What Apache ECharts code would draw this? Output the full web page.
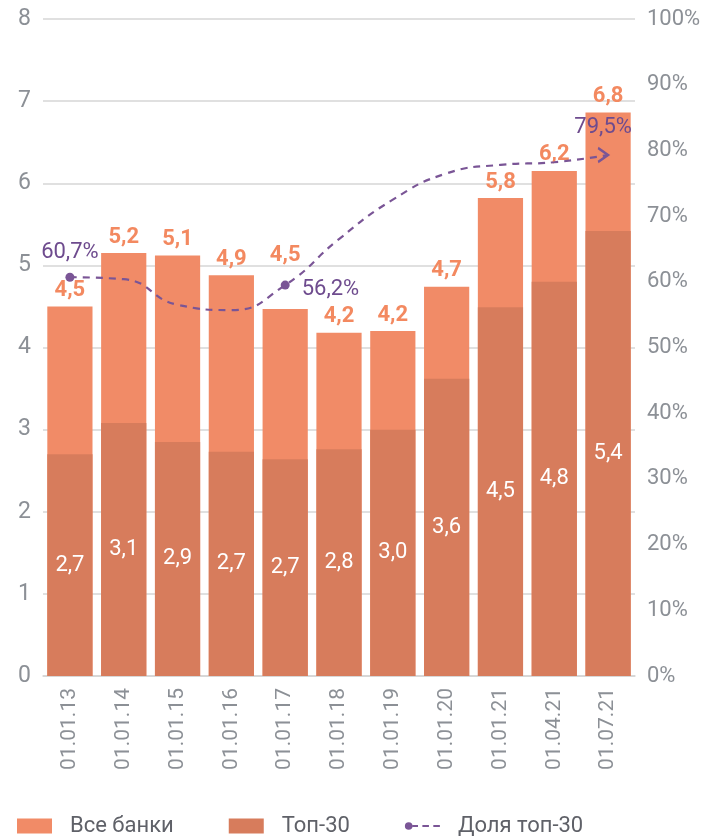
<!DOCTYPE html>
<html>
<head>
<meta charset="utf-8">
<script src="https://cdn.jsdelivr.net/npm/echarts@6/dist/echarts.min.js"></script>
<style>
html,body{margin:0;padding:0;background:#fff;}
#chart{width:708px;height:839px;}
</style>
</head>
<body>
<div id="chart"></div>
<script>
const categories = ['01.01.13','01.01.14','01.01.15','01.01.16','01.01.17','01.01.18','01.01.19','01.01.20','01.01.21','01.04.21','01.07.21'];
const allBanks = [4.5, 5.15, 5.12, 4.88, 4.47, 4.18, 4.2, 4.74, 5.82, 6.15, 6.86];
const allBanksLabels = ['4,5', '5,2', '5,1', '4,9', '4,5', '4,2', '4,2', '4,7', '5,8', '6,2', '6,8'];
const top30 = [2.7, 3.08, 2.85, 2.73, 2.64, 2.76, 3.0, 3.62, 4.49, 4.8, 5.42];
const top30Labels = ['2,7', '3,1', '2,9', '2,7', '2,7', '2,8', '3,0', '3,6', '4,5', '4,8', '5,4'];
const shareTop30 = [60.7, 60.4, 56.5, 55.7, 59.5, 66.5, 72.5, 76.5, 77.8, 78.2, 79.3];
const shareLabels = ['60,7%', '', '', '', '56,2%', '', '', '', '', '', '79,5%'];
const leftTicks = [0, 8, 1];
const rightTicks = [0, 100, 10];

const FONT = 'Roboto';
const purple = '#7a5596';

const markStyle = {
  0: {symbol: 'circle', label: {position: 'top', distance: 9}},
  4: {symbol: 'circle', label: {position: 'right', distance: 12, offset: [0, 4]}},
  10: {symbol: 'path://M0,0L9,7L0,14', symbolSize: [10, 14], symbolOffset: [-5, 0],
       itemStyle: {color: 'transparent', borderColor: purple, borderWidth: 2.2},
       label: {position: 'top', distance: 8}}
};

const shareData = shareTop30.map((v, i) => {
  const m = markStyle[i];
  if (!m) return {value: v, symbol: 'none', label: {show: false}};
  return Object.assign({value: v}, m, {label: Object.assign({show: true}, m.label)});
});

// label of 01.01.17 total is lifted above the share marker, as in the reference
const allData = allBanks.map((v, i) => i === 4 ? {value: v, label: {distance: 42}} : {value: v});

const chart = echarts.init(document.getElementById('chart'), null, {renderer: 'canvas'});
chart.setOption({
  animation: false,
  textStyle: {fontFamily: FONT},
  grid: {left: 43, right: 73, top: 19, bottom: 163, containLabel: false},
  legend: {
    left: 12, top: 810, padding: 5,
    itemWidth: 35, itemHeight: 15, itemGap: 55,
    textStyle: {fontFamily: FONT, fontSize: 22, color: '#5f6168', padding: [0, 0, 0, 13]},
    data: [
      {name: 'Все банки', icon: 'rect'},
      {name: 'Топ-30', icon: 'rect'},
      {name: 'Доля топ-30', icon: 'path://M0,4a3.5,3.5 0 1,0 7,0a3.5,3.5 0 1,0 -7,0zM7,3h5v2h-5zM16,3h6v2h-6zM26,3h6v2h-6z'}
    ]
  },
  xAxis: {
    type: 'category',
    data: categories,
    axisLine: {show: true, lineStyle: {color: '#d4d4d4', width: 1.5}},
    axisTick: {show: false},
    axisLabel: {rotate: 90, margin: 12, fontFamily: FONT, fontSize: 21, color: '#8c9096'}
  },
  yAxis: [
    {
      type: 'value', min: leftTicks[0], max: leftTicks[1], interval: leftTicks[2],
      axisLine: {show: false}, axisTick: {show: false},
      axisLabel: {fontFamily: FONT, fontSize: 23, color: '#8c9096', margin: 12},
      splitLine: {lineStyle: {color: '#d6d6d6', width: 1.5}}
    },
    {
      type: 'value', min: rightTicks[0], max: rightTicks[1], interval: rightTicks[2],
      axisLine: {show: false}, axisTick: {show: false},
      axisLabel: {fontFamily: FONT, fontSize: 22, color: '#8c9096', margin: 12, formatter: '{value}%'},
      splitLine: {show: false}
    }
  ],
  series: [
    {
      name: 'Все банки', type: 'bar', data: allData,
      barCategoryGap: '16%', barGap: '-100%',
      itemStyle: {color: '#f18b67'},
      label: {show: true, position: 'top', distance: 5, fontFamily: FONT, fontSize: 22, fontWeight: 'bold',
              color: '#f38960', formatter: p => allBanksLabels[p.dataIndex]}
    },
    {
      name: 'Топ-30', type: 'bar', data: top30,
      barCategoryGap: '16%', barGap: '-100%',
      itemStyle: {color: '#d77c5c'},
      label: {show: true, position: 'inside', fontFamily: FONT, fontSize: 22, color: '#ffffff',
              formatter: p => top30Labels[p.dataIndex]}
    },
    {
      name: 'Доля топ-30', type: 'line', yAxisIndex: 1, data: shareData,
      smooth: 0.5, symbol: 'circle', symbolSize: 9,
      lineStyle: {color: purple, width: 2.2, type: [7, 6]},
      itemStyle: {color: purple},
      label: {fontFamily: FONT, fontSize: 22, color: '#6e4b8e', formatter: p => shareLabels[p.dataIndex]},
      z: 5
    }
  ]
});
</script>
</body>
</html>
